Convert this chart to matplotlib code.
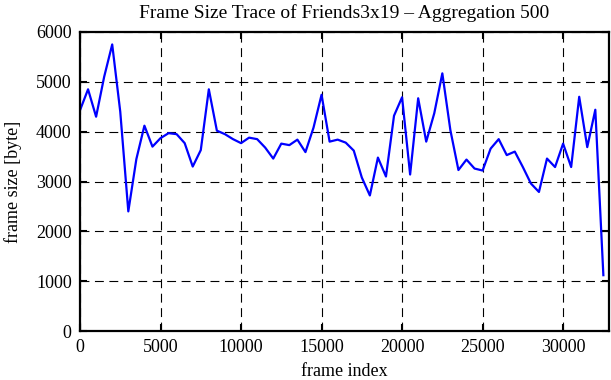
import matplotlib
matplotlib.use("Agg")
import matplotlib.pyplot as plt
import numpy as np

frame_index = list(range(0, 33000, 500))
frame_size = [4430, 4850, 4300, 5100, 5750, 4400, 2400, 3450, 4120, 3700,
              3870, 3970, 3950, 3770, 3300, 3630, 4850, 4020, 3950, 3850,
              3770, 3880, 3850, 3680, 3460, 3760, 3730, 3840, 3590, 4080,
              4740, 3800, 3840, 3780, 3620, 3080, 2720, 3480, 3100, 4320,
              4690, 3140, 4670, 3800, 4370, 5170, 4030, 3230, 3440, 3260,
              3220, 3660, 3850, 3530, 3600, 3290, 2960, 2790, 3460, 3290,
              3760, 3290, 4700, 3690, 4440, 1120]

xticks = [0, 5000, 10000, 15000, 20000, 25000, 30000]
yticks = [0, 1000, 2000, 3000, 4000, 5000, 6000]
title = "Frame Size Trace of Friends3x19 \u2013 Aggregation 500"

plt.rcParams['font.family'] = ['Liberation Serif', 'DejaVu Serif']

fig = plt.figure(figsize=(6.11, 3.80), dpi=100)
ax = fig.add_axes([80/611, 1-331/380, (609-80)/611, (331-32)/380])

ax.plot(frame_index, frame_size, color='#0000ff', linewidth=1.6)

ax.set_xlim(0, 32850)
ax.set_ylim(0, 6000)
ax.set_xticks(xticks)
ax.set_yticks(yticks)
ax.grid(True, color='black', linestyle=(0, (8, 5)), linewidth=0.8)
ax.tick_params(direction='in', length=5, width=1.5, top=True, right=True,
               labelsize=13, pad=6)
for s in ax.spines.values():
    s.set_linewidth(1.6)

ax.set_xlabel('frame index', fontsize=13, labelpad=5)
ax.set_ylabel('frame size [byte]', fontsize=13, labelpad=10)
ax.set_title(title, fontsize=14, pad=10)

fig.savefig('out.png', dpi=100)
